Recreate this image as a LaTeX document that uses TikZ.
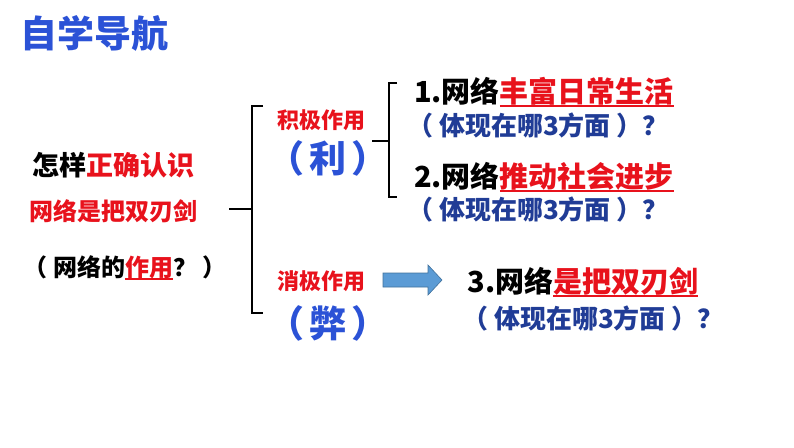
\documentclass[tikz,border=0pt]{standalone}
\usepackage{fontspec}
\setmainfont{Noto Sans CJK SC}
\usepackage{xcolor}
\usetikzlibrary{positioning,calc}

\definecolor{titleblue}{RGB}{43,82,214}
\definecolor{askblue}{RGB}{32,60,150}
\definecolor{hotred}{RGB}{232,18,28}
\definecolor{arrfill}{RGB}{91,155,213}
\definecolor{arrline}{RGB}{65,113,156}

% red text with a thick red line under it
\newcommand{\ulred}[2][-5pt]{\textcolor{hotred}{\setbox0\hbox{#2}\rlap{\rule[#1]{\wd0}{2pt}}\box0}}

\begin{document}
\begin{tikzpicture}[x=1pt,y=-1pt,
    every node/.style={inner sep=0pt},
    titletxt/.style={text=titleblue,font=\bfseries\fontsize{37}{40}\selectfont},
    lefttxt/.style={font=\bfseries\fontsize{#1}{#1}\selectfont},
    tagtxt/.style={text=hotred,font=\bfseries\fontsize{22}{24}\selectfont},
    lihai/.style={text=titleblue,font=\bfseries\fontsize{37}{40}\selectfont},
    itemtxt/.style={font=\bfseries\fontsize{29}{32}\selectfont},
    asktxt/.style={text=askblue,font=\bfseries\fontsize{26}{28}\selectfont},
    brk/.style={line width=1.6pt}]
    \useasboundingbox (0,0) rectangle (794,447);

    % Title
    \node[titletxt, anchor=west] (title) at (20,33) {自学导航};

    % Question on the left
    \node[lefttxt=27] (q1) at (113,165) {怎样\textcolor{hotred}{正确认识}};
    \node[lefttxt=24, text=hotred] (q2) at (113,211) {网络是把双刃剑};
    \node[lefttxt=24] (q3) at (125,268) {（ 网络的\ulred[-4pt]{作用}？ ）};

    % Big bracket
    \coordinate (bigtop) at (252,106);
    \coordinate (bigbot) at (252,313);
    \coordinate (bigmid) at (252,209);
    \coordinate (bigin) at (229,209);
    \draw[brk] ($(bigtop)+(11,0)$) -- (bigtop) -- (bigbot) -- ($(bigbot)+(11,0)$);
    \draw[brk] (bigin) -- (bigmid);

    % Good side / bad side
    \node[tagtxt] (pos) at (321,120) {积极作用};
    \node[lihai] (li) at (328,158) {（\hspace{5pt}利\hspace{5pt}）};
    \node[tagtxt] (neg) at (321,281) {消极作用};
    \node[lihai] (bi) at (328,323) {（\hspace{5pt}弊\hspace{5pt}）};

    % Small bracket
    \coordinate (smtop) at (389,83);
    \coordinate (smbot) at (389,197);
    \coordinate (smmid) at (389,141);
    \coordinate (smin) at (372,141);
    \draw[brk] ($(smtop)+(8,0)$) -- (smtop) -- (smbot) -- ($(smbot)+(8,0)$);
    \draw[brk] (smin) -- (smmid);

    % Items
    \node[itemtxt] (it1) at (544,92) {1.网络\ulred{丰富日常生活}};
    \node[asktxt] (ask1) at (538,126) {（ 体现在哪3方面 ）？};
    \node[itemtxt] (it2) at (544,177) {2.网络\ulred{推动社会进步}};
    \node[asktxt] (ask2) at (538,209) {（ 体现在哪3方面 ）？};
    \node[itemtxt] (it3) at (583,282) {3.网络\ulred{是把双刃剑}};
    \node[asktxt] (ask3) at (593,318) {（ 体现在哪3方面 ）？};

    % Block arrow
    \draw[fill=arrfill, draw=arrline, line width=0.6pt]
      (383,273) -- (428,273) -- (428,265) -- (442,280) -- (428,295) -- (428,287) -- (383,287) -- cycle;
\end{tikzpicture}
\end{document}
